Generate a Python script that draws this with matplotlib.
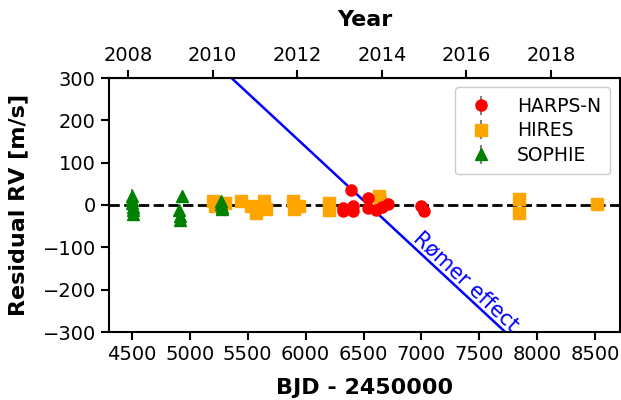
import numpy as np
import matplotlib as mpl
mpl.use('Agg')
import matplotlib.pyplot as plt

mpl.rcParams.update({'font.size': 14})

# residual RVs after removing the orbit (BJD - 2450000, m/s)
harps_t = [6321, 6325, 6393, 6405, 6407, 6536, 6538, 6608, 6660, 6709, 6997, 7025]
harps_rv = [-14, -7, 35, -2, -13, 16, -6, -12, -5, 2, -3, -13]
harps_err = [4, 10, 3, 3, 4, 3, 3, 4, 3, 3, 3, 3]

hires_t = [5201, 5215, 5300, 5444, 5530, 5573, 5645, 5660, 5889, 5904, 5947,
           6200, 6206, 6637, 6640, 7845, 7847, 8520]
hires_rv = [9, -2, 5, 9, -2, -18, 9, -9, 9, -9, -2,
            5, -12, 21, 8, 15, -20, 3]
hires_err = [3] * len(hires_t)

sophie_t = [4500, 4502, 4504, 4506, 4508, 4510, 4905, 4912, 4918, 4935,
            5268, 5272, 5276, 5280]
sophie_rv = [22, 12, 4, -4, -12, -22, -12, -25, -35, 21,
             10, 2, -4, -10]
sophie_err = [15, 10, 8, 8, 8, 10, 8, 8, 8, 8, 8, 8, 8, 8]

# light travel time (Romer) trend
romer_slope = -0.2538   # m/s per day
romer_t0 = 6542         # zero crossing

xlim = (4302, 8713)
ylim = (-300, 300)

fig = plt.figure(figsize=(6.21, 4.0), dpi=100)
ax = fig.add_axes([0.1755, 0.17, 0.8225, 0.635])

ax.axhline(0, color='black', ls='--', lw=2, zorder=1)

tt = np.array(xlim)
ax.plot(tt, romer_slope * (tt - romer_t0), color='blue', lw=1.8, zorder=2)
ax.text(7390, -180, 'Rømer effect', color='blue', fontsize=15,
        rotation=-43, ha='center', va='center', rotation_mode='anchor')

ax.errorbar(harps_t, harps_rv, yerr=harps_err, fmt='o', color='red',
            ecolor='grey', ms=8, label='HARPS-N', zorder=4)
ax.errorbar(hires_t, hires_rv, yerr=hires_err, fmt='s', color='orange',
            ecolor='grey', ms=8, label='HIRES', zorder=3)
ax.errorbar(sophie_t, sophie_rv, yerr=sophie_err, fmt='^', color='green',
            ecolor='grey', ms=8.5, label='SOPHIE', zorder=3)

ax.set_xlim(*xlim)
ax.set_ylim(*ylim)
ax.set_xticks([4500, 5000, 5500, 6000, 6500, 7000, 7500, 8000, 8500])
ax.set_yticks([-300, -200, -100, 0, 100, 200, 300])
ax.set_xlabel('BJD - 2450000', fontsize=16, fontweight='bold', labelpad=10)
ax.set_ylabel('Residual RV [m/s]', fontsize=16, fontweight='bold', labelpad=10)
for s in ax.spines.values():
    s.set_linewidth(1.5)
ax.tick_params(width=1.5, length=6)


def bjd2year(x):
    return 2000 + (x + 2450000 - 2451545.0) / 365.25


def year2bjd(y):
    return (y - 2000) * 365.25 + 2451545.0 - 2450000


sec = ax.secondary_xaxis('top', functions=(bjd2year, year2bjd))
sec.set_xticks([2008, 2010, 2012, 2014, 2016, 2018])
sec.set_xlabel('Year', fontsize=16, fontweight='bold', labelpad=14)
sec.tick_params(width=1.5, length=6)

ax.legend(loc='upper right', fontsize=13.5, borderpad=0.5, handletextpad=1.0,
          handlelength=1.8, labelspacing=0.3, framealpha=1)

plt.savefig('out.png', dpi=100)
